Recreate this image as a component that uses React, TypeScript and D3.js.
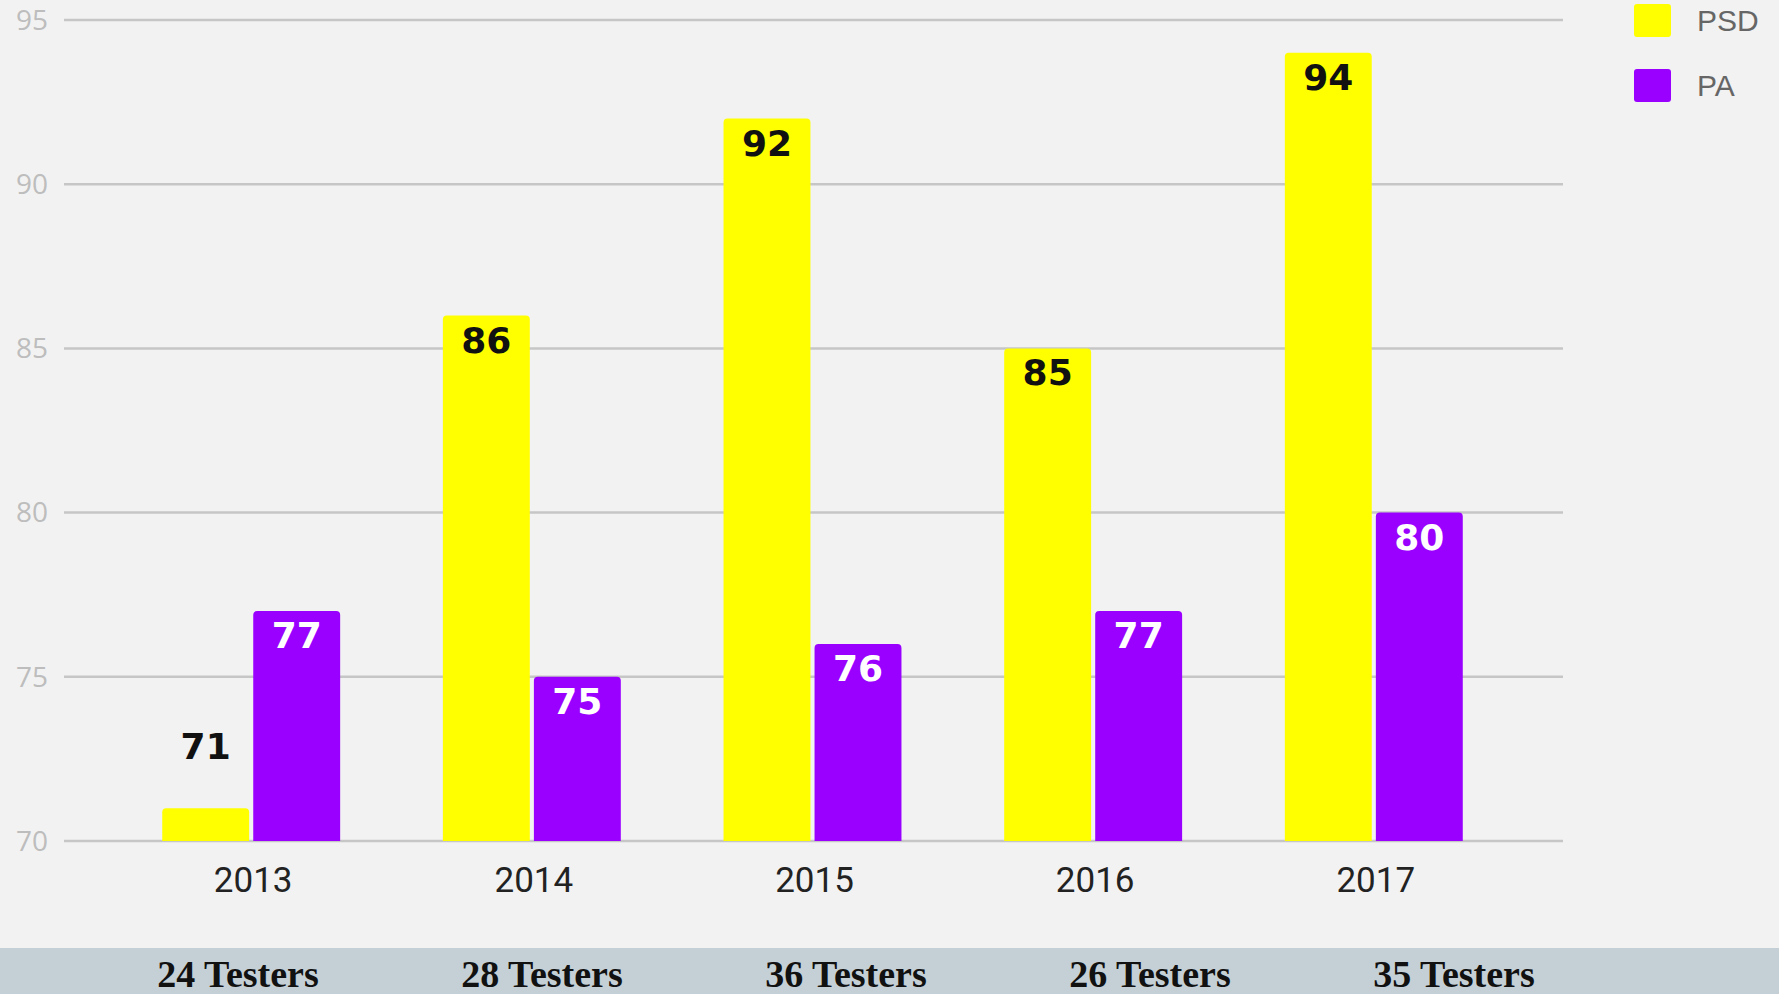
import React from "react";
import * as d3 from "d3";

const years = ["2013", "2014", "2015", "2016", "2017"];
const series = ["PSD", "PA"];
const psdValues = [71, 86, 92, 85, 94];
const paValues = [77, 75, 76, 77, 80];
const yTicks = [70, 75, 80, 85, 90, 95];
const testers = ["24 Testers", "28 Testers", "36 Testers", "26 Testers", "35 Testers"];
const colors: Record<string, string> = { PSD: "#ffff00", PA: "#9900ff" };
const labelColors: Record<string, string> = { PSD: "#111111", PA: "#ffffff" };

const W = 1779;
const H = 994;

function topRoundedBar(x: number, y: number, w: number, h: number, r: number) {
  const rr = Math.min(r, h / 2, w / 2);
  return `M${x},${y + h}V${y + rr}Q${x},${y} ${x + rr},${y}H${x + w - rr}Q${x + w},${y} ${x + w},${y + rr}V${y + h}Z`;
}

export default function App() {
  const y = d3.scaleLinear().domain([70, 95]).range([841, 20]);
  const x0 = d3.scaleBand<string>().domain(years).range([64, 1561]).paddingInner(0.366).paddingOuter(0.35);
  const x1 = d3.scaleBand<string>().domain(series).range([0, x0.bandwidth()]).paddingInner(0.045);
  const xt = d3.scalePoint<string>().domain(testers).range([238, 1454]);
  const gridX0 = 64;
  const gridX1 = 1563;

  const data = years.map((yr, i) => ({ year: yr, PSD: psdValues[i], PA: paValues[i] }));

  return (
    <svg width={W} height={H} style={{ position: "absolute", left: 0, top: 0, display: "block" }}>
      <rect x={0} y={0} width={W} height={H} fill="#f2f2f2" />
      {yTicks.map((t) => (
        <g key={t}>
          <line x1={gridX0} x2={gridX1} y1={y(t)} y2={y(t)} stroke="#c6c6c6" strokeWidth={2.5} />
          <text x={48} y={y(t)} dy="0.35em" textAnchor="end" fontFamily="'Open Sans', sans-serif" fontSize={28} fill="#bdbdbd">
            {t}
          </text>
        </g>
      ))}
      {data.map((d) => (
        <g key={d.year} transform={`translate(${x0(d.year)},0)`}>
          {series.map((s) => {
            const v = (d as any)[s] as number;
            const bx = x1(s)!;
            const by = y(v);
            const bh = y(70) - by;
            const bw = x1.bandwidth();
            const inside = bh > 60;
            const ly = inside ? by + 37 : by - 49;
            return (
              <g key={s}>
                <path d={topRoundedBar(bx, by, bw, bh, 4)} fill={colors[s]} />
                <text
                  x={bx + bw / 2}
                  y={ly}
                  textAnchor="middle"
                  fontFamily="'DejaVu Sans', sans-serif"
                  fontWeight="bold"
                  fontSize={36}
                  fill={inside ? labelColors[s] : "#111111"}
                >
                  {v}
                </text>
              </g>
            );
          })}
          <text x={x0.bandwidth() / 2 + 2} y={892} textAnchor="middle" fontFamily="Roboto, sans-serif" fontSize={35} fill="#222222">
            {d.year}
          </text>
        </g>
      ))}
      {series.map((s, i) => (
        <g key={s} transform={`translate(1634,${4 + i * 65})`}>
          <rect x={0} y={0} width={37} height={33} rx={3} fill={colors[s]} />
          <text x={63} y={16.5} dy="0.35em" fontFamily="'Liberation Sans', Arial, sans-serif" fontSize={30} fill="#666666">
            {s}
          </text>
        </g>
      ))}
      <rect x={0} y={948} width={W} height={H - 948} fill="#c5d0d6" />
      {testers.map((t) => (
        <text key={t} x={xt(t)} y={987} textAnchor="middle" fontFamily="'Liberation Serif', 'DejaVu Serif', serif" fontWeight="bold" fontSize={38} fill="#111111">
          {t}
        </text>
      ))}
    </svg>
  );
}
